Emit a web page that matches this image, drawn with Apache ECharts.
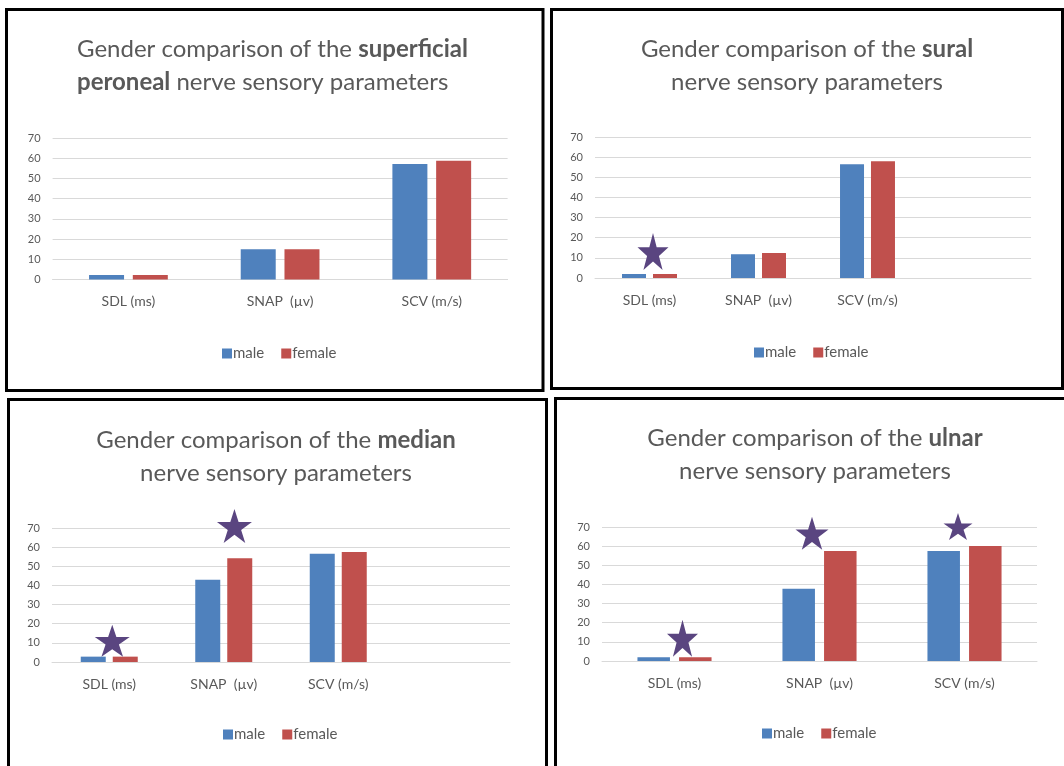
<!DOCTYPE html>
<html>
<head>
<meta charset="utf-8">
<script src="https://cdn.jsdelivr.net/npm/echarts@6/dist/echarts.min.js"></script>
<style>
html,body{margin:0;padding:0;background:#fff;}
#chart{width:1064px;height:766px;}
</style>
</head>
<body>
<div id="chart"></div>
<script>
// ---------- data ----------
const categories3 = ['SDL (ms)', 'SNAP  (µv)', 'SCV (m/s)'];
const categories4 = ['SDL (ms)', 'SNAP  (µv)', 'SCV (m/s)', ''];
const yTicks = [0, 10, 20, 30, 40, 50, 60, 70];

const peronealMale   = [2.2, 15.0, 57.1];
const peronealFemale = [2.2, 15.0, 58.8];
const suralMale      = [2.0, 11.8, 56.5];
const suralFemale    = [2.0, 12.4, 57.9];
const medianMale     = [2.8, 43.0, 56.6];
const medianFemale   = [2.8, 54.2, 57.5];
const ulnarMale      = [1.9, 37.8, 57.5];
const ulnarFemale    = [1.9, 57.5, 60.1];

// significance stars: [category index, value]
const suralStars  = [[0, 13.1]];
const medianStars = [[0, 11.1], [1, 71.1]];
const ulnarStars  = [[0, 11.9], [1, 66.7], [2, 70.2]];

// ---------- styles ----------
const MALE = '#4F81BD', FEMALE = '#C0504D', STAR = '#5A4580';
const GRID = '#D9D9D9', TXT = '#595959', BOLD = '#404040';
const FONT = 'Lato, "Open Sans", sans-serif';
const starPath = 'path://M50 0 L61.23 34.55 L97.55 34.55 L68.16 55.9 L79.39 90.45 L50 69.1 L20.61 90.45 L31.84 55.9 L2.45 34.55 L38.77 34.55 Z';

const panels = [
  { grid: {left: 52.6, top: 138, width: 455, height: 141.5}, cats: categories3, male: peronealMale, female: peronealFemale,
    barWidth: 35, barGap: '25%', stars: [], starStyle: [],
    title: {x: 77, y: 33, align: 'left', line1: 'Gender comparison of the ', bold1: 'superficial', bold2: 'peroneal', line2: ' nerve sensory parameters'},
    legend: {left: 217, top: 341}},
  { grid: {left: 595, top: 137, width: 436, height: 141}, cats: categories4, male: suralMale, female: suralFemale,
    barWidth: 24, barGap: '29%', stars: suralStars, starStyle: [{size: [31, 37], off: [3.5, 0]}],
    title: {x: 807, y: 33, align: 'center', line1: 'Gender comparison of the ', bold1: 'sural', bold2: '', line2: 'nerve sensory parameters'},
    legend: {left: 749, top: 340}},
  { grid: {left: 52, top: 528, width: 458, height: 134}, cats: categories4, male: medianMale, female: medianFemale,
    barWidth: 25, barGap: '28%', stars: medianStars, starStyle: [{size: [35, 32], off: [3, 0]}, {size: [35, 34], off: [10.7, 0]}],
    title: {x: 276, y: 424, align: 'center', line1: 'Gender comparison of the ', bold1: 'median', bold2: '', line2: 'nerve sensory parameters'},
    legend: {left: 218, top: 722}},
  { grid: {left: 602, top: 527, width: 435, height: 134}, cats: categories3, male: ulnarMale, female: ulnarFemale,
    barWidth: 32.5, barGap: '28%', stars: ulnarStars, starStyle: [{size: [31, 37], off: [8, 0]}, {size: [33, 33], off: [-7.5, 0]}, {size: [29, 27], off: [-6.5, 0]}],
    title: {x: 815, y: 422, align: 'center', line1: 'Gender comparison of the ', bold1: 'ulnar', bold2: '', line2: 'nerve sensory parameters'},
    legend: {left: 757, top: 721}}
];

const option = {
  backgroundColor: '#fff',
  animation: false,
  textStyle: {fontFamily: FONT},
  grid: [], xAxis: [], yAxis: [], series: [], legend: [], graphic: []
};

const richStyle = {
  n: {fontFamily: FONT, fontSize: 24, color: TXT, lineHeight: 33},
  b: {fontFamily: FONT, fontSize: 24, color: BOLD, fontWeight: 'bold', lineHeight: 33}
};

panels.forEach((p, i) => {
  option.grid.push(Object.assign({containLabel: false}, p.grid));
  option.xAxis.push({
    type: 'category', gridIndex: i, data: p.cats,
    axisLine: {show: true, lineStyle: {color: GRID, width: 1}},
    axisTick: {show: false},
    axisLabel: {color: TXT, fontSize: 14, margin: 15, fontFamily: FONT, interval: 0}
  });
  option.yAxis.push({
    type: 'value', gridIndex: i, min: yTicks[0], max: yTicks[yTicks.length - 1], interval: yTicks[1] - yTicks[0],
    axisLine: {show: false}, axisTick: {show: false},
    splitLine: {lineStyle: {color: GRID, width: 1}},
    axisLabel: {color: TXT, fontSize: 11, margin: 12, fontFamily: FONT}
  });
  option.series.push({
    name: 'male', type: 'bar', xAxisIndex: i, yAxisIndex: i, data: p.male,
    barWidth: p.barWidth, barGap: p.barGap, itemStyle: {color: MALE}
  });
  option.series.push({
    name: 'female', type: 'bar', xAxisIndex: i, yAxisIndex: i, data: p.female,
    barWidth: p.barWidth, barGap: p.barGap, itemStyle: {color: FEMALE}
  });
  if (p.stars.length) {
    option.series.push({
      name: 'star', type: 'scatter', xAxisIndex: i, yAxisIndex: i, clip: false, z: 5,
      symbol: starPath,
      data: p.stars.map((s, k) => ({value: s, symbolSize: p.starStyle[k].size, symbolOffset: p.starStyle[k].off})),
      itemStyle: {color: STAR, opacity: 1}
    });
  }
  option.legend.push({
    data: ['male', 'female'], left: p.legend.left, top: p.legend.top,
    icon: 'rect', itemWidth: 10, itemHeight: 10, itemGap: 17,
    textStyle: {color: TXT, fontSize: 15, fontFamily: FONT, padding: [0, 0, 0, -4]}
  });
  const t = p.title;
  const text = t.bold2
    ? '{n|' + t.line1 + '}{b|' + t.bold1 + '}\n{b|' + t.bold2 + '}{n|' + t.line2 + '}'
    : '{n|' + t.line1 + '}{b|' + t.bold1 + '}\n{n|' + t.line2 + '}';
  option.graphic.push({
    type: 'text', x: t.x, y: t.y, z: 10,
    style: {text: text, rich: richStyle, align: t.align, verticalAlign: 'top', fontFamily: FONT, fontSize: 24, fill: TXT}
  });
});

// panel frames
const frames = [
  {x: 6.5, y: 9.5, width: 536.5, height: 381},
  {x: 551.5, y: 9.5, width: 511, height: 379},
  {x: 8.5, y: 399.5, width: 538, height: 380},
  {x: 555.5, y: 398.5, width: 530, height: 380}
];
frames.forEach(f => option.graphic.push({
  type: 'rect', shape: f, z: 20, style: {fill: 'none', stroke: '#000', lineWidth: 3}
}));

const chart = echarts.init(document.getElementById('chart'));
chart.setOption(option);
</script>
</body>
</html>
